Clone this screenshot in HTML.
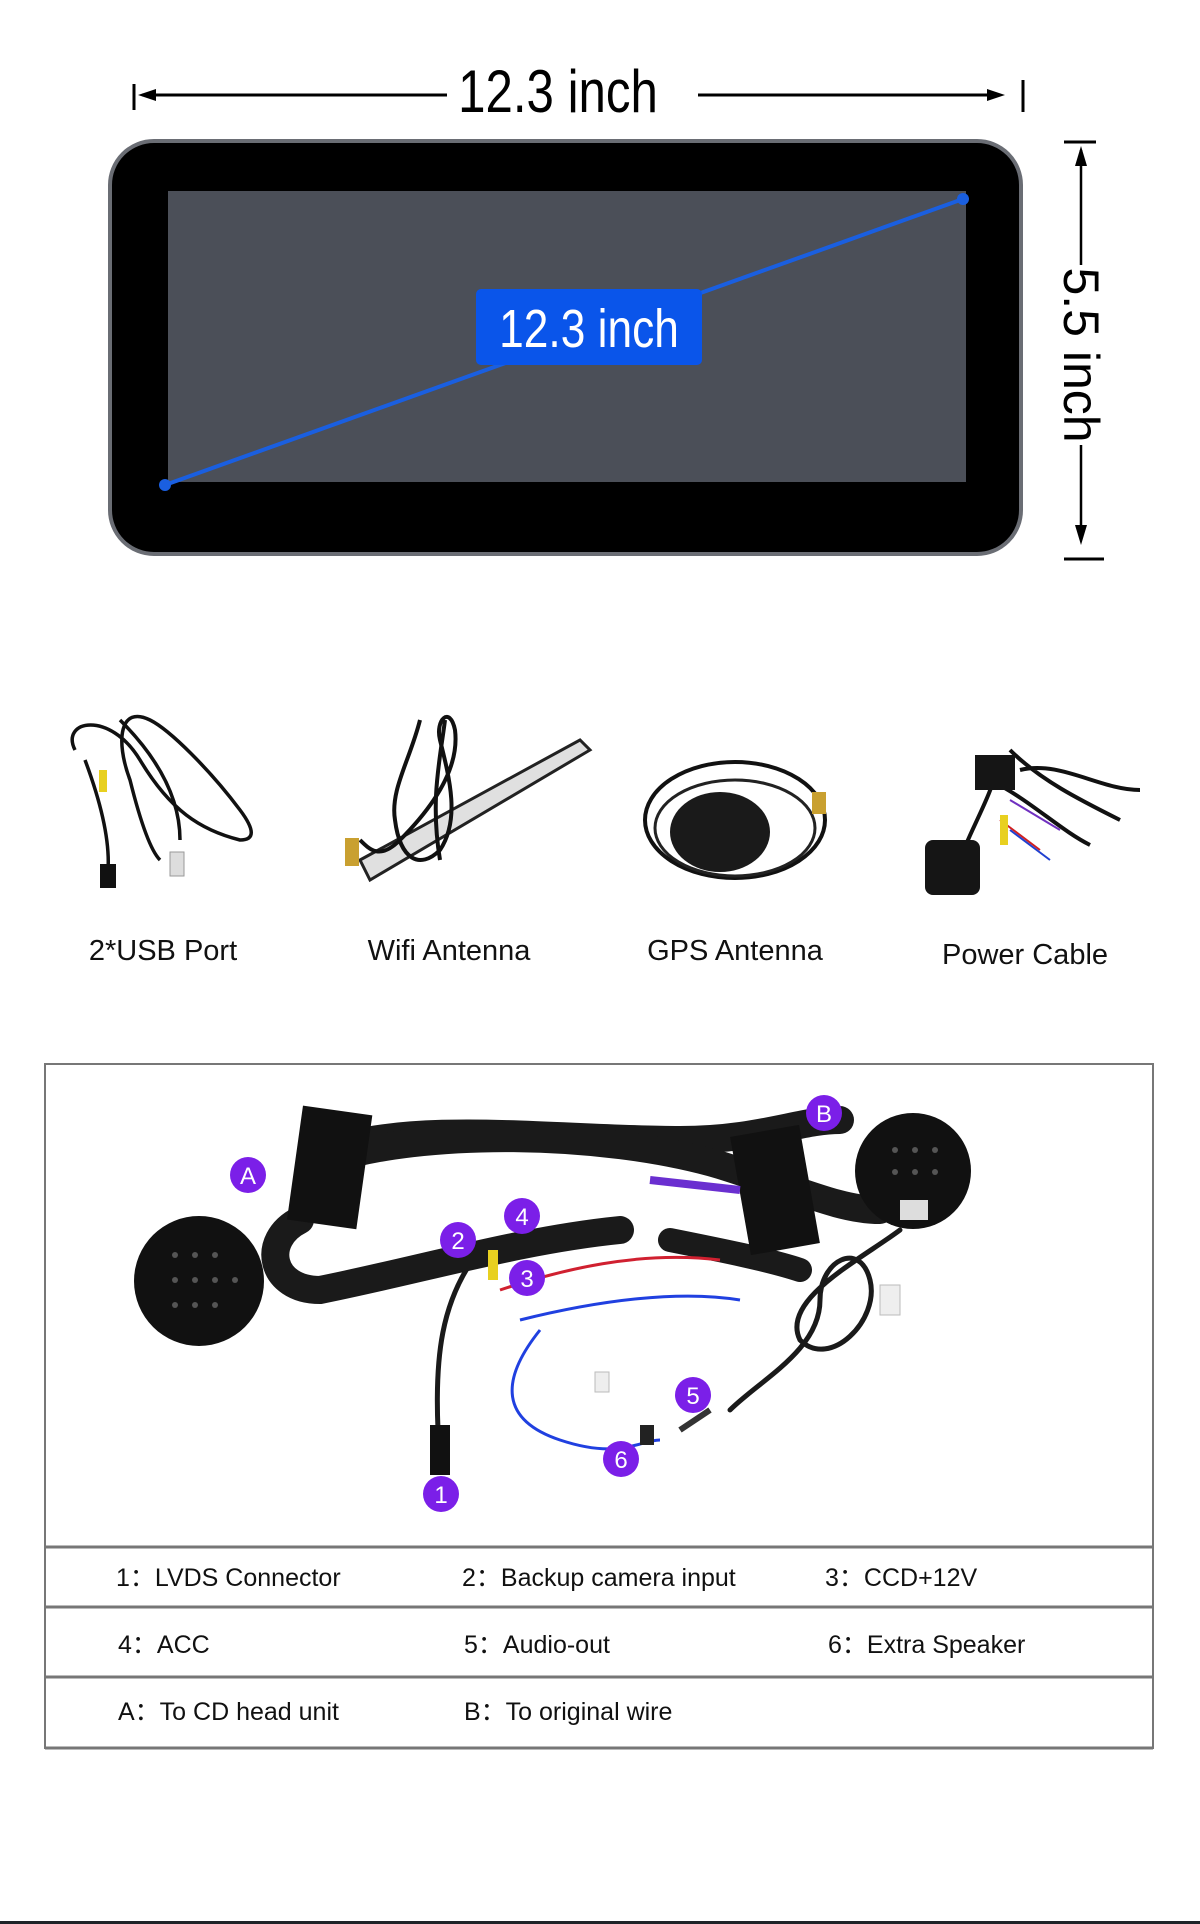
<!DOCTYPE html>
<html><head><meta charset="utf-8"><style>
html,body{margin:0;padding:0;background:#fff;}
body{width:1200px;height:1924px;position:relative;overflow:hidden;font-family:"Liberation Sans",sans-serif;}
</style></head><body>
<svg width="1200" height="1924" viewBox="0 0 1200 1924" style="position:absolute;left:0;top:0">
<!-- top dimension -->
<line x1="134" y1="84" x2="134" y2="110" stroke="#000" stroke-width="3"/>
<line x1="1023" y1="80" x2="1023" y2="112" stroke="#000" stroke-width="3"/>
<line x1="142" y1="95" x2="447" y2="95" stroke="#000" stroke-width="3"/>
<polygon points="138,95 156,89 156,101" fill="#000"/>
<line x1="698" y1="95" x2="1000" y2="95" stroke="#000" stroke-width="3"/>
<polygon points="1005,95 987,89 987,101" fill="#000"/>
<text transform="translate(558,112) scale(0.82,1)" text-anchor="middle" font-size="60" font-family="Liberation Sans, sans-serif">12.3 inch</text>
<!-- monitor -->
<rect x="110" y="141" width="911" height="413" rx="44" fill="#000" stroke="#6a6d74" stroke-width="4"/>
<rect x="168" y="191" width="798" height="291" fill="#4b4f58"/>
<line x1="165" y1="485" x2="963" y2="199" stroke="#1a5fe0" stroke-width="4"/>
<circle cx="165" cy="485" r="6" fill="#1a5fe0"/>
<circle cx="963" cy="199" r="6" fill="#1a5fe0"/>
<rect x="476" y="289" width="226" height="76" rx="5" fill="#0a55ea"/>
<text transform="translate(589,347) scale(0.82,1)" text-anchor="middle" font-size="54" fill="#fff" font-family="Liberation Sans, sans-serif">12.3 inch</text>
<!-- right dimension -->
<line x1="1064" y1="142" x2="1096" y2="142" stroke="#000" stroke-width="3"/>
<line x1="1064" y1="559" x2="1104" y2="559" stroke="#000" stroke-width="3"/>
<line x1="1081" y1="150" x2="1081" y2="265" stroke="#000" stroke-width="2.5"/>
<polygon points="1081,146 1075,166 1087,166" fill="#000"/>
<line x1="1081" y1="445" x2="1081" y2="540" stroke="#000" stroke-width="2.5"/>
<polygon points="1081,545 1075,525 1087,525" fill="#000"/>
<text x="0" y="0" transform="translate(1064,355) rotate(90)" text-anchor="middle" font-size="50" font-family="Liberation Sans, sans-serif">5.5 inch</text>

<!-- accessories -->
<g fill="none" stroke="#111" stroke-width="3.5">
<path d="M75 750 C60 720 110 710 140 760 C170 810 200 830 240 840 C255 840 255 830 240 810 C210 770 170 730 150 720 C120 705 115 740 130 780 C140 820 150 850 160 860"/>
<path d="M85 760 C100 800 110 840 108 870"/>
<path d="M120 720 C160 760 180 800 180 840"/>
</g>
<rect x="100" y="864" width="16" height="24" fill="#111"/>
<rect x="170" y="852" width="14" height="24" fill="#ddd" stroke="#999"/>
<rect x="99" y="770" width="8" height="22" fill="#e8d020"/>
<!-- wifi -->
<polygon points="360,860 580,740 590,750 370,880" fill="#e0e0e0" stroke="#222" stroke-width="3"/>
<g fill="none" stroke="#111" stroke-width="4">
<path d="M420 720 C410 760 390 790 395 820 C400 860 420 870 440 850 C460 820 450 780 440 740 C435 720 450 705 455 730 C460 770 430 810 400 840 C380 860 370 850 360 840"/>
<path d="M445 720 C440 760 430 800 440 860"/>
</g>
<rect x="345" y="838" width="14" height="28" fill="#c9a030"/>
<!-- gps -->
<ellipse cx="735" cy="820" rx="90" ry="58" fill="none" stroke="#111" stroke-width="4"/>
<ellipse cx="735" cy="828" rx="80" ry="48" fill="none" stroke="#222" stroke-width="3"/>
<ellipse cx="720" cy="832" rx="50" ry="40" fill="#1a1a1a"/>
<rect x="812" y="792" width="14" height="22" fill="#c9a030"/>
<!-- power cable -->
<g fill="none" stroke="#111" stroke-width="4">
<path d="M1000 760 C990 800 970 830 960 860 M1010 750 C1040 780 1080 800 1120 820 M990 780 C1030 800 1060 830 1090 845 M1020 770 C1060 760 1100 790 1140 790"/>
</g>
<rect x="925" y="840" width="55" height="55" rx="8" fill="#151515"/>
<rect x="975" y="755" width="40" height="35" fill="#151515"/>
<g stroke-width="2" fill="none"><path d="M1010 800 L1060 830" stroke="#7030c0"/><path d="M1000 820 L1040 850" stroke="#d02020"/><path d="M1010 830 L1050 860" stroke="#2040d0"/></g>
<rect x="1000" y="815" width="8" height="30" fill="#e8d020"/>

<g font-size="29" font-family="Liberation Sans, sans-serif" fill="#111" text-anchor="middle">
<text x="163" y="960">2*USB Port</text>
<text x="449" y="960">Wifi Antenna</text>
<text x="735" y="960">GPS Antenna</text>
<text x="1025" y="964">Power Cable</text>
</g>

<!-- table -->
<rect x="45" y="1064" width="1108" height="684" fill="#fff" stroke="#777" stroke-width="2"/>
<line x1="45" y1="1547" x2="1153" y2="1547" stroke="#777" stroke-width="3"/>
<line x1="45" y1="1607" x2="1153" y2="1607" stroke="#777" stroke-width="3"/>
<line x1="45" y1="1677" x2="1153" y2="1677" stroke="#777" stroke-width="3"/>
<line x1="45" y1="1748" x2="1153" y2="1748" stroke="#777" stroke-width="3"/>

<!-- harness -->
<g fill="none" stroke="#1a1a1a" stroke-linecap="round">
<path d="M330 1150 C420 1120 560 1140 680 1140 C760 1140 800 1120 840 1120" stroke-width="28"/>
<path d="M330 1160 C420 1130 600 1130 720 1165 C800 1190 840 1210 880 1210" stroke-width="28"/>
<path d="M300 1220 C260 1240 270 1290 320 1290 C420 1270 520 1240 620 1230" stroke-width="28"/>
<path d="M670 1240 C720 1250 770 1260 800 1270" stroke-width="24"/>
<path d="M480 1250 C440 1300 435 1360 438 1430" stroke-width="5"/>
<path d="M900 1230 C860 1260 780 1300 800 1340 C830 1370 880 1320 870 1280 C860 1240 820 1260 820 1300 C820 1350 760 1380 730 1410" stroke-width="5"/>
</g>
<rect x="295" y="1110" width="70" height="115" fill="#111" transform="rotate(8 330 1165)"/>
<rect x="740" y="1130" width="70" height="120" fill="#111" transform="rotate(-10 775 1190)"/>
<g fill="none" stroke-width="3">
<path d="M500 1290 C560 1270 640 1250 720 1260" stroke="#d02030"/>
<path d="M520 1320 C600 1300 680 1290 740 1300" stroke="#2040e0"/>
<path d="M540 1330 C500 1380 500 1420 560 1440 C620 1460 640 1440 660 1440" stroke="#2040e0"/>
<path d="M650 1180 L740 1190" stroke="#6a2fd0" stroke-width="8"/>
</g>
<rect x="488" y="1250" width="10" height="30" fill="#e8d020"/>
<rect x="595" y="1372" width="14" height="20" fill="#eee" stroke="#bbb"/>
<rect x="880" y="1285" width="20" height="30" fill="#eee" stroke="#bbb"/>
<rect x="430" y="1425" width="20" height="50" fill="#111"/>
<line x1="710" y1="1410" x2="680" y2="1430" stroke="#333" stroke-width="6"/>
<rect x="640" y="1425" width="14" height="20" fill="#222"/>
<circle cx="199" cy="1281" r="65" fill="#111"/>
<circle cx="913" cy="1171" r="58" fill="#111"/>
<g fill="#555">
<circle cx="175" cy="1255" r="3"/><circle cx="195" cy="1255" r="3"/><circle cx="215" cy="1255" r="3"/>
<circle cx="175" cy="1280" r="3"/><circle cx="195" cy="1280" r="3"/><circle cx="215" cy="1280" r="3"/><circle cx="235" cy="1280" r="3"/>
<circle cx="175" cy="1305" r="3"/><circle cx="195" cy="1305" r="3"/><circle cx="215" cy="1305" r="3"/>
<circle cx="895" cy="1150" r="3"/><circle cx="915" cy="1150" r="3"/><circle cx="935" cy="1150" r="3"/>
<circle cx="895" cy="1172" r="3"/><circle cx="915" cy="1172" r="3"/><circle cx="935" cy="1172" r="3"/>
</g>
<rect x="900" y="1200" width="28" height="20" fill="#ddd"/>
<g fill="#7b1fe8">
<circle cx="248" cy="1175" r="18"/><circle cx="824" cy="1113" r="18"/><circle cx="441" cy="1494" r="18"/>
<circle cx="458" cy="1240" r="18"/><circle cx="527" cy="1278" r="18"/><circle cx="522" cy="1216" r="18"/>
<circle cx="693" cy="1395" r="18"/><circle cx="621" cy="1459" r="18"/>
</g>
<g fill="#fff" font-size="24" text-anchor="middle" font-family="Liberation Sans, sans-serif">
<text x="248" y="1184">A</text><text x="824" y="1122">B</text><text x="441" y="1503">1</text>
<text x="458" y="1249">2</text><text x="527" y="1287">3</text><text x="522" y="1225">4</text>
<text x="693" y="1404">5</text><text x="621" y="1468">6</text>
</g>
<g font-size="25" fill="#111" font-family="Liberation Sans, sans-serif">
<text x="116" y="1586">1：LVDS Connector</text>
<text x="462" y="1586">2：Backup camera input</text>
<text x="825" y="1586">3：CCD+12V</text>
<text x="118" y="1653">4：ACC</text>
<text x="464" y="1653">5：Audio-out</text>
<text x="828" y="1653">6：Extra Speaker</text>
<text x="118" y="1720">A：To CD head unit</text>
<text x="464" y="1720">B：To original wire</text>
</g>
<rect x="0" y="1921" width="1200" height="3" fill="#1e2328"/>
</svg>
</body></html>
